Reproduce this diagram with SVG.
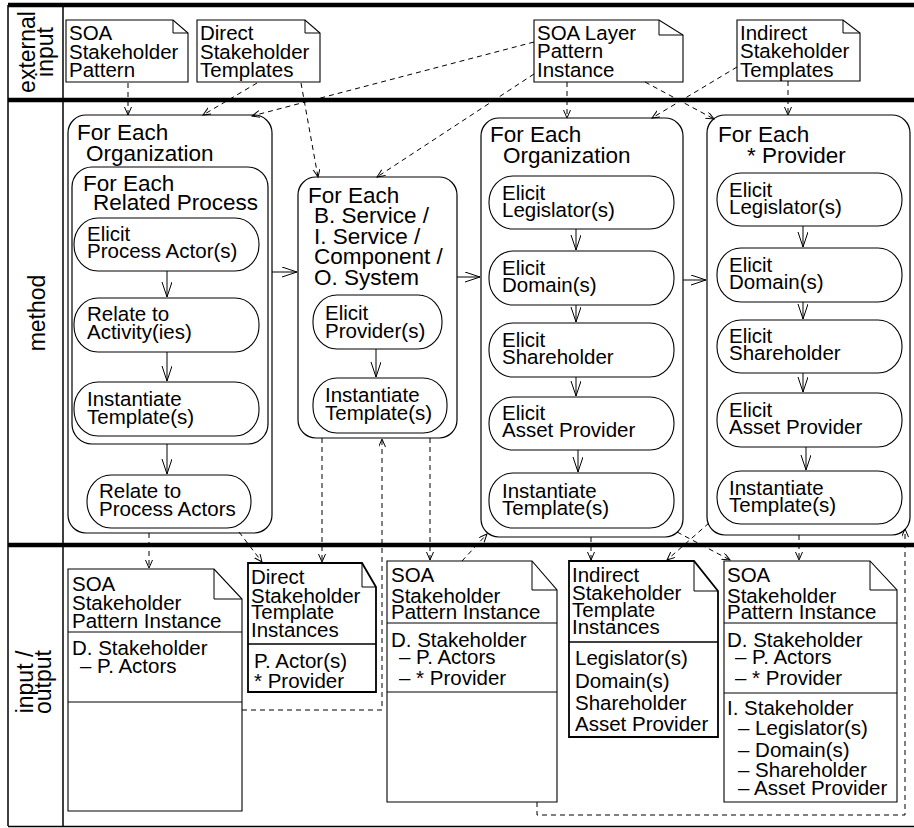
<svg xmlns="http://www.w3.org/2000/svg" width="914" height="828" viewBox="0 0 914 828">
<style>
text{font-family:"Liberation Sans",Arial,Helvetica,sans-serif;fill:#000}
.t{font-size:20.5px}
.ti{font-size:22.5px}
.ln{font-size:23px}
.box{fill:#fff;stroke:#000;stroke-width:1.2}
.act{fill:#fff;stroke:#000;stroke-width:1.1}
.doc{fill:#fff;stroke:#000;stroke-width:1.1}
.docb{fill:#fff;stroke:#000;stroke-width:1.8}
.fold{fill:none;stroke:#000;stroke-width:1}
.sep{fill:none;stroke:#000;stroke-width:1}
.flow{fill:none;stroke:#000;stroke-width:1;marker-end:url(#arr)}
.dash{fill:none;stroke:#000;stroke-width:1;stroke-dasharray:5,4;marker-end:url(#darr)}
.dashn{fill:none;stroke:#000;stroke-width:1;stroke-dasharray:5,4}
.frame{fill:none;stroke:#000;stroke-width:1.5}
.thick{fill:none;stroke:#000;stroke-width:4.5}
</style>
<defs>
<marker id="arr" markerUnits="userSpaceOnUse" markerWidth="16" markerHeight="12" refX="15" refY="5" orient="auto">
<path d="M0,0 L15,5 L0,10" fill="none" stroke="#000" stroke-width="1"/>
</marker>
<marker id="darr" markerUnits="userSpaceOnUse" markerWidth="9" markerHeight="8" refX="8" refY="3.5" orient="auto">
<path d="M0,0 L8,3.5 L0,7" fill="none" stroke="#000" stroke-width="1"/>
</marker>
</defs>
<rect width="914" height="828" fill="#fff"/>

<g id="frame">
<line class="frame" x1="8" y1="5" x2="8" y2="826"/>
<line class="frame" x1="63" y1="5" x2="63" y2="826"/>
<line class="frame" x1="8" y1="826.5" x2="914" y2="826.5"/>
<line class="thick" x1="8" y1="5" x2="914" y2="5"/>
<line class="thick" x1="8" y1="100" x2="914" y2="100"/>
<line class="thick" x1="8" y1="545" x2="914" y2="545"/>
</g>

<g id="lane-labels">
<text class="ln" text-anchor="middle" transform="translate(35,52) rotate(-90)">external</text>
<text class="ln" text-anchor="middle" transform="translate(53,52) rotate(-90)">input</text>
<text class="ln" text-anchor="middle" transform="translate(45,313) rotate(-90)">method</text>
<text class="ln" text-anchor="middle" transform="translate(33,682) rotate(-90)">input /</text>
<text class="ln" text-anchor="middle" transform="translate(51,682) rotate(-90)">output</text>
</g>

<!-- external input notes -->
<g id="n-soa-stakeholder-pattern">
<path class="doc" d="M66,20 H173 L188,33 V82 H66 Z"/>
<path class="fold" d="M173,20 V33 H188"/>
<text class="t" x="69" y="40">SOA</text>
<text class="t" x="69" y="59">Stakeholder</text>
<text class="t" x="69" y="77">Pattern</text>
</g>
<g id="n-direct-templates">
<path class="doc" d="M197,20 H305 L320,33 V82 H197 Z"/>
<path class="fold" d="M305,20 V33 H320"/>
<text class="t" x="200" y="40">Direct</text>
<text class="t" x="200" y="59">Stakeholder</text>
<text class="t" x="200" y="77">Templates</text>
</g>
<g id="n-soa-layer">
<path class="doc" d="M534,20 H659 L683,35 V82 H534 Z"/>
<path class="fold" d="M659,20 V35 H683"/>
<text class="t" x="537" y="40">SOA Layer</text>
<text class="t" x="537" y="58">Pattern</text>
<text class="t" x="537" y="77">Instance</text>
</g>
<g id="n-indirect-templates">
<path class="doc" d="M737,20 H843 L860,33 V81 H737 Z"/>
<path class="fold" d="M843,20 V33 H860"/>
<text class="t" x="740" y="40">Indirect</text>
<text class="t" x="740" y="58">Stakeholder</text>
<text class="t" x="740" y="77">Templates</text>
</g>

<!-- method: box A -->
<g id="a-for-each-organization">
<rect class="box" x="68" y="115" width="204" height="418" rx="18"/>
<text class="ti" x="77" y="140">For Each</text>
<text class="ti" x="86" y="161">Organization</text>
</g>
<g id="a-for-each-related-process">
<rect class="box" x="72" y="167" width="196" height="277" rx="20"/>
<text class="ti" x="83" y="191">For Each</text>
<text class="ti" x="93" y="210">Related Process</text>
</g>
<g id="a-elicit-process-actors">
<rect class="act" x="74" y="218" width="185" height="53" rx="24" ry="26"/>
<text class="t" x="87" y="241">Elicit</text>
<text class="t" x="87" y="258">Process Actor(s)</text>
</g>
<g id="a-relate-activities">
<rect class="act" x="74" y="298" width="185" height="54" rx="24" ry="26"/>
<text class="t" x="87" y="321">Relate to</text>
<text class="t" x="87" y="339">Activity(ies)</text>
</g>
<g id="a-instantiate">
<rect class="act" x="74" y="382" width="185" height="54" rx="24" ry="26"/>
<text class="t" x="87" y="406">Instantiate</text>
<text class="t" x="87" y="424">Template(s)</text>
</g>
<g id="a-relate-process-actors">
<rect class="act" x="87" y="475" width="164" height="53" rx="24" ry="26"/>
<text class="t" x="99" y="498">Relate to</text>
<text class="t" x="99" y="516">Process Actors</text>
</g>

<!-- method: box B -->
<g id="b-for-each-service">
<rect class="box" x="298" y="177" width="159" height="261" rx="18"/>
<text class="ti" x="308" y="203">For Each</text>
<text class="ti" x="314" y="223">B. Service /</text>
<text class="ti" x="314" y="244">I. Service /</text>
<text class="ti" x="314" y="264">Component /</text>
<text class="ti" x="314" y="285">O. System</text>
</g>
<g id="b-elicit-providers">
<rect class="act" x="313" y="295" width="129" height="54" rx="24" ry="26"/>
<text class="t" x="325" y="320">Elicit</text>
<text class="t" x="325" y="338">Provider(s)</text>
</g>
<g id="b-instantiate">
<rect class="act" x="313" y="378" width="134" height="55" rx="24" ry="26"/>
<text class="t" x="325" y="402">Instantiate</text>
<text class="t" x="325" y="420">Template(s)</text>
</g>

<!-- method: box C -->
<g id="c-for-each-organization">
<rect class="box" x="481" y="118" width="202" height="419" rx="18"/>
<text class="ti" x="490" y="142">For Each</text>
<text class="ti" x="503" y="163">Organization</text>
</g>
<g id="c-elicit-legislators">
<rect class="act" x="489" y="176" width="185" height="53" rx="24" ry="26"/>
<text class="t" x="502" y="200">Elicit</text>
<text class="t" x="502" y="217">Legislator(s)</text>
</g>
<g id="c-elicit-domains">
<rect class="act" x="489" y="251" width="185" height="54" rx="24" ry="26"/>
<text class="t" x="502" y="275">Elicit</text>
<text class="t" x="502" y="292">Domain(s)</text>
</g>
<g id="c-elicit-shareholder">
<rect class="act" x="489" y="323" width="185" height="54" rx="24" ry="26"/>
<text class="t" x="502" y="347">Elicit</text>
<text class="t" x="502" y="364">Shareholder</text>
</g>
<g id="c-elicit-asset-provider">
<rect class="act" x="489" y="397" width="185" height="53" rx="24" ry="26"/>
<text class="t" x="502" y="420">Elicit</text>
<text class="t" x="502" y="437">Asset Provider</text>
</g>
<g id="c-instantiate">
<rect class="act" x="489" y="473" width="185" height="55" rx="24" ry="26"/>
<text class="t" x="502" y="498">Instantiate</text>
<text class="t" x="502" y="515">Template(s)</text>
</g>

<!-- method: box D -->
<g id="d-for-each-provider">
<rect class="box" x="707" y="115" width="203" height="420" rx="18"/>
<text class="ti" x="718" y="142">For Each</text>
<text class="ti" x="747" y="163">* Provider</text>
</g>
<g id="d-elicit-legislators">
<rect class="act" x="717" y="173" width="185" height="53" rx="24" ry="26"/>
<text class="t" x="729" y="197">Elicit</text>
<text class="t" x="729" y="214">Legislator(s)</text>
</g>
<g id="d-elicit-domains">
<rect class="act" x="717" y="248" width="185" height="54" rx="24" ry="26"/>
<text class="t" x="729" y="272">Elicit</text>
<text class="t" x="729" y="289">Domain(s)</text>
</g>
<g id="d-elicit-shareholder">
<rect class="act" x="717" y="320" width="185" height="53" rx="24" ry="26"/>
<text class="t" x="729" y="343">Elicit</text>
<text class="t" x="729" y="360">Shareholder</text>
</g>
<g id="d-elicit-asset-provider">
<rect class="act" x="717" y="393" width="185" height="54" rx="24" ry="26"/>
<text class="t" x="729" y="417">Elicit</text>
<text class="t" x="729" y="434">Asset Provider</text>
</g>
<g id="d-instantiate">
<rect class="act" x="717" y="471" width="185" height="53" rx="24" ry="26"/>
<text class="t" x="729" y="495">Instantiate</text>
<text class="t" x="729" y="512">Template(s)</text>
</g>

<!-- input / output docs -->
<g id="o-soa-spi-1">
<path class="doc" d="M68,569 H214 L242,599 V811 H68 Z"/>
<path class="fold" d="M214,569 V599 H242"/>
<line class="sep" x1="68" y1="632" x2="242" y2="632"/>
<line class="sep" x1="68" y1="702" x2="242" y2="702"/>
<text class="t" x="72" y="591">SOA</text>
<text class="t" x="72" y="610">Stakeholder</text>
<text class="t" x="72" y="628">Pattern Instance</text>
<text class="t" x="72" y="655">D. Stakeholder</text>
<text class="t" x="80" y="673">– P. Actors</text>
</g>
<g id="o-direct-template-instances">
<path class="docb" d="M248,563 H362 L376,587 V692 H248 Z"/>
<path class="fold" d="M362,563 V587 H376"/>
<line class="sep" x1="248" y1="644" x2="376" y2="644" style="stroke-width:1.5"/>
<text class="t" x="251" y="584">Direct</text>
<text class="t" x="251" y="603">Stakeholder</text>
<text class="t" x="251" y="619">Template</text>
<text class="t" x="251" y="637">Instances</text>
<text class="t" x="254" y="668">P. Actor(s)</text>
<text class="t" x="254" y="688">* Provider</text>
</g>
<g id="o-soa-spi-2">
<path class="doc" d="M387,561 H532 L557,590 V802 H387 Z"/>
<path class="fold" d="M532,561 V590 H557"/>
<line class="sep" x1="387" y1="623" x2="557" y2="623"/>
<line class="sep" x1="387" y1="692" x2="557" y2="692"/>
<text class="t" x="391" y="582">SOA</text>
<text class="t" x="391" y="603">Stakeholder</text>
<text class="t" x="391" y="619">Pattern Instance</text>
<text class="t" x="391" y="647">D. Stakeholder</text>
<text class="t" x="399" y="664">– P. Actors</text>
<text class="t" x="399" y="685">– * Provider</text>
</g>
<g id="o-indirect-template-instances">
<path class="docb" d="M569,561 H694 L718,591 V737 H569 Z"/>
<path class="fold" d="M694,561 V591 H718"/>
<line class="sep" x1="569" y1="642" x2="718" y2="642" style="stroke-width:1.5"/>
<text class="t" x="572" y="582">Indirect</text>
<text class="t" x="572" y="600">Stakeholder</text>
<text class="t" x="572" y="617">Template</text>
<text class="t" x="572" y="634">Instances</text>
<text class="t" x="575" y="665">Legislator(s)</text>
<text class="t" x="575" y="688">Domain(s)</text>
<text class="t" x="575" y="710">Shareholder</text>
<text class="t" x="575" y="731">Asset Provider</text>
</g>
<g id="o-soa-spi-3">
<path class="doc" d="M724,561 H870 L897,590 V802 H724 Z"/>
<path class="fold" d="M870,561 V590 H897"/>
<line class="sep" x1="724" y1="623" x2="897" y2="623"/>
<line class="sep" x1="724" y1="693" x2="897" y2="693"/>
<text class="t" x="727" y="582">SOA</text>
<text class="t" x="727" y="603">Stakeholder</text>
<text class="t" x="727" y="619">Pattern Instance</text>
<text class="t" x="727" y="647">D. Stakeholder</text>
<text class="t" x="735" y="664">– P. Actors</text>
<text class="t" x="735" y="685">– * Provider</text>
<text class="t" x="727" y="715">I. Stakeholder</text>
<text class="t" x="738" y="735">– Legislator(s)</text>
<text class="t" x="738" y="757">– Domain(s)</text>
<text class="t" x="738" y="777">– Shareholder</text>
<text class="t" x="738" y="795">– Asset Provider</text>
</g>

<g id="connectors">
<!-- solid control flow -->
<line class="flow" x1="167" y1="271" x2="167" y2="297"/>
<line class="flow" x1="167" y1="352" x2="167" y2="381"/>
<line class="flow" x1="167" y1="444" x2="167" y2="474"/>
<line class="flow" x1="376" y1="349" x2="376" y2="377"/>
<line class="flow" x1="576" y1="229" x2="576" y2="250"/>
<line class="flow" x1="576" y1="305" x2="576" y2="322"/>
<line class="flow" x1="576" y1="377" x2="576" y2="396"/>
<line class="flow" x1="578" y1="450" x2="578" y2="472"/>
<line class="flow" x1="803" y1="226" x2="803" y2="247"/>
<line class="flow" x1="803" y1="302" x2="803" y2="319"/>
<line class="flow" x1="803" y1="373" x2="803" y2="392"/>
<line class="flow" x1="806" y1="447" x2="806" y2="470"/>
<line class="flow" x1="272" y1="272" x2="297" y2="272"/>
<line class="flow" x1="457" y1="277" x2="480" y2="277"/>
<line class="flow" x1="683" y1="280" x2="706" y2="280"/>
<!-- dashed object flow: external input -->
<line class="dash" x1="128" y1="83" x2="128" y2="115"/>
<line class="dash" x1="257" y1="83" x2="203" y2="115"/>
<line class="dash" x1="534" y1="42" x2="252" y2="116"/>
<line class="dash" x1="301" y1="83" x2="318" y2="177"/>
<line class="dash" x1="534" y1="74" x2="377" y2="177"/>
<line class="dash" x1="567" y1="82" x2="567" y2="118"/>
<line class="dash" x1="645" y1="82" x2="714" y2="119"/>
<line class="dash" x1="737" y1="67" x2="652" y2="118"/>
<line class="dash" x1="788" y1="81" x2="788" y2="115"/>
<!-- dashed object flow: method to output -->
<line class="dash" x1="149" y1="533" x2="149" y2="568"/>
<line class="dash" x1="239" y1="532" x2="262" y2="562"/>
<line class="dash" x1="322" y1="438" x2="322" y2="562"/>
<polyline class="dash" points="242,710 382,710 382,439"/>
<line class="dash" x1="430" y1="438" x2="430" y2="560"/>
<line class="dash" x1="462" y1="561" x2="487" y2="534"/>
<line class="dash" x1="591" y1="537" x2="591" y2="560"/>
<line class="dash" x1="677" y1="532" x2="730" y2="560"/>
<line class="dash" x1="709" y1="523" x2="667" y2="560"/>
<line class="dash" x1="799" y1="535" x2="799" y2="560"/>
<polyline class="dash" points="537,802 537,815 905,815 905,529"/>
</g>
</svg>
